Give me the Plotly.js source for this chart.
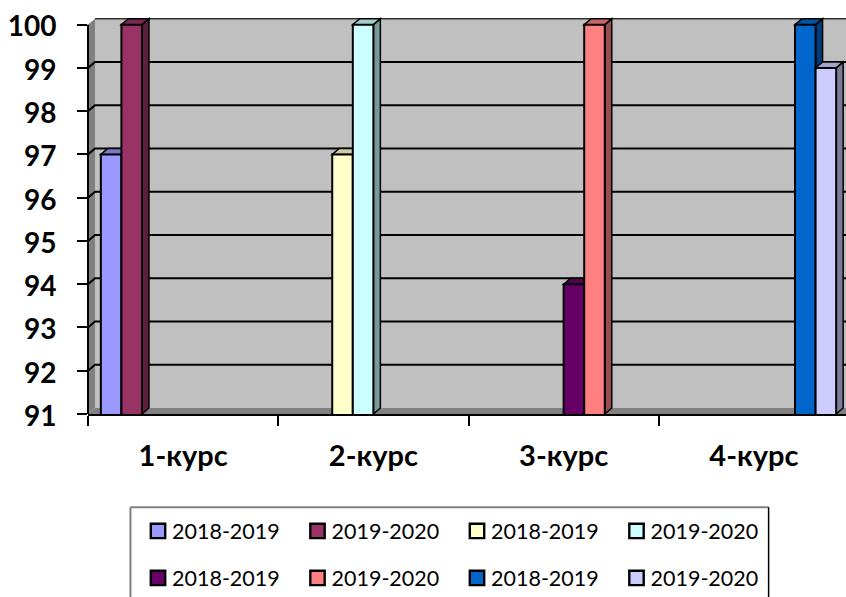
<!DOCTYPE html>
<html><head><meta charset="utf-8">
<script src="https://cdn.plot.ly/plotly-3.0.1.min.js"></script>
<style>html,body{margin:0;padding:0;background:#fff;overflow:hidden;width:846px;height:597px}</style>
</head><body><div id="chart" style="width:860px;height:597px"></div>
<script>
const categories = ['1-курс','2-курс','3-курс','4-курс'];
const seriesNames = ['2018-2019','2019-2020','2018-2019','2019-2020','2018-2019','2019-2020','2018-2019','2019-2020'];
const s1 = [97,null,null,null];
const s2 = [100,null,null,null];
const s3 = [null,97,null,null];
const s4 = [null,100,null,null];
const s5 = [null,null,94,null];
const s6 = [null,null,100,null];
const s7 = [null,null,null,100];
const s8 = [null,null,null,99];
const seriesValues = [s1,s2,s3,s4,s5,s6,s7,s8];
const colors = ['#9999FF','#993366','#FFFFCC','#CCFFFF','#660066','#FF8080','#0066CC','#CCCCFF'];
const yTicks = [91,92,93,94,95,96,97,98,99,100];

const W = 860, H = 597;
const plotL = 87.5, plotR = 849.5, plotB = 413.8, pxPerUnit = 43.25, yMin = 91, yMax = 100.2;
const plotT = plotB - (yMax - yMin) * pxPerUnit;
const plotH = plotB - plotT, plotW = plotR - plotL;
const pxPerCat = plotW / categories.length;
const dX = 7 / pxPerCat, dY = 6 / pxPerUnit;   // depth of the pseudo-3D box
const bargap = 0.135;
const barW = (1 - bargap) / seriesValues.length;
const xL = -0.5, xR = categories.length - 0.5;

function shade(hex, f){
  const n = parseInt(hex.slice(1),16);
  const c = [n>>16&255, n>>8&255, n&255].map(v => Math.round(v*f));
  return 'rgb(' + c.join(',') + ')';
}
function poly(pts){ return 'M' + pts.map(p => p[0] + ',' + p[1]).join('L') + 'Z'; }
function face(pts, fill, lw){
  return {type:'path', xref:'x', yref:'y', layer:'below', path:poly(pts), fillcolor:fill,
          line:{color:'#000', width:lw===undefined?1.5:lw}};
}
const px = v => (v - plotL) / plotW, py = v => (plotB - v) / plotH;
function pline(x0,y0,x1,y1,color,w){
  return {type:'line', xref:'paper', yref:'paper', x0:px(x0), x1:px(x1), y0:py(y0), y1:py(y1), line:{color:color,width:w}};
}

const shapes = [];
// back wall, left wall, floor
shapes.push({type:'rect', xref:'x', yref:'y', layer:'below', x0:xL+dX, x1:xR+1, y0:yMin+dY, y1:100+dY, fillcolor:'#C0C0C0', line:{width:0}});
shapes.push({type:'line', xref:'x', yref:'y', layer:'below', x0:xL+dX, x1:xR+1, y0:100+dY, y1:100+dY, line:{color:'#333',width:1.5}});
shapes.push(face([[xL,yMin],[xL+dX,yMin+dY],[xL+dX,100+dY],[xL,100]], '#808080', 0));
shapes.push(face([[xL,yMin],[xL+dX,yMin+dY],[xR+1,yMin+dY],[xR+1,yMin]], '#808080', 0));
// gridlines on left wall and back wall
yTicks.forEach(v => {
  if (v === yMin) return;
  shapes.push({type:'path', xref:'x', yref:'y', layer:'below',
    path:'M'+xL+','+v+'L'+(xL+dX)+','+(v+dY)+'L'+(xR+1)+','+(v+dY), line:{color:'#000',width:v===100?0:2}});
});
// top and side faces of every bar
seriesValues.forEach((vals,i) => {
  vals.forEach((v,c) => {
    if (v === null) return;
    const x0 = c - 0.5 + bargap/2 + i*barW, x1 = x0 + barW;
    shapes.push(face([[x1,yMin],[x1+dX,yMin+dY],[x1+dX,v+dY],[x1,v]], shade(colors[i],0.6)));
    shapes.push(face([[x0,v],[x0+dX,v+dY],[x1+dX,v+dY],[x1,v]], shade(colors[i],0.8)));
  });
});
// front vertical axis line
shapes.push({type:'line', xref:'paper', yref:'y', x0:0, x1:0, y0:yMin, y1:100, line:{color:'#000',width:2}, layer:'above'});
// legend frame
const boxL=130, boxT=507, boxR=769, boxB=640;
shapes.push(pline(boxL,boxT,boxR,boxT,'#808080',2));
shapes.push(pline(boxL,boxT,boxL,boxB,'#808080',2));
shapes.push(pline(boxR,boxT,boxR,boxB,'#000',1.5));

const traces = seriesValues.map((vals,i) => ({
  type:'bar', name:seriesNames[i], x:categories, y:vals,
  marker:{color:colors[i], line:{color:'#000', width:2}},
  legend: i < 4 ? 'legend' : 'legend2', showlegend:true
}));

const legendFont = {family:'Lato, "Open Sans", sans-serif', size:21.5, color:'#000'};
function legendAt(yPx){
  return {orientation:'h', xref:'container', yref:'container', x:132/W, y:1-yPx/H,
          xanchor:'left', yanchor:'middle', bgcolor:'rgba(0,0,0,0)', borderwidth:0,
          font:legendFont, entrywidth:114.5, entrywidthmode:'pixels', traceorder:'normal'};
}

const tickFont = size => ({family:'Lato, "Open Sans", sans-serif', size:size, color:'#000', weight:'bold'});
const layout = {
  width:W, height:H, paper_bgcolor:'#fff', plot_bgcolor:'#fff',
  margin:{l:plotL, r:W-plotR, t:plotT, b:H-plotB, pad:0, autoexpand:false},
  barmode:'group', bargap:bargap, bargroupgap:0, showlegend:true,
  xaxis:{type:'category', categoryorder:'array', categoryarray:categories, range:[xL,xR], tickson:'boundaries',
    ticks:'outside', ticklen:10, tickwidth:1.5, tickcolor:'#000', showline:true, linecolor:'#000', linewidth:2,
    showgrid:false, zeroline:false, ticklabelstandoff:15, tickfont:tickFont(29)},
  yaxis:{range:[yMin,yMax], tickmode:'array', tickvals:yTicks, ticktext:yTicks.map(String),
    ticks:'outside', ticklen:10, tickwidth:1.5, tickcolor:'#000', showline:false,
    showgrid:false, zeroline:false, ticklabelstandoff:15, ticklabelshift:2, tickfont:tickFont(28)},
  legend:legendAt(531), legend2:legendAt(578),
  shapes:shapes
};
Plotly.newPlot('chart', traces, layout, {displayModeBar:false, responsive:false}).then(gd => {
  // nudge and enlarge the legend swatches to sit close to their labels
  gd.querySelectorAll('.legendsymbols').forEach(g => g.setAttribute('transform','translate(6,0)'));
  gd.querySelectorAll('.legendpoints path').forEach(p => {
    const t = p.getAttribute('transform') || '';
    p.setAttribute('transform', t + ' scale(1.2)');
  });
});
</script></body></html>
